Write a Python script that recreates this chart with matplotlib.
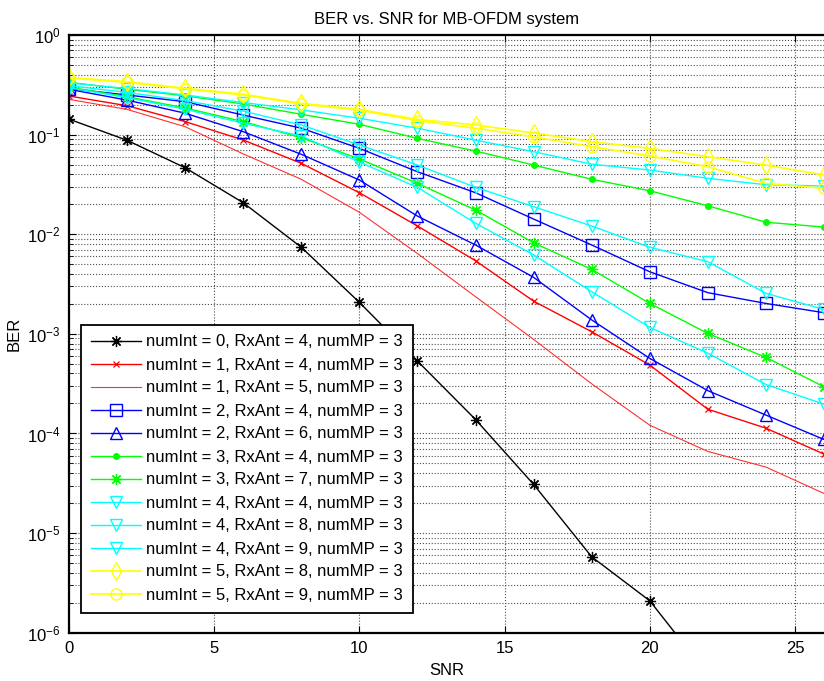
import numpy as np
from matplotlib import pyplot as plt

plt.rcParams['font.family'] = ['Liberation Sans', 'DejaVu Sans']

# SNR points (dB)
snr = [0, 2, 4, 6, 8, 10, 12, 14, 16, 18, 20, 22, 24, 26]
snr_0_4 = snr[:12]

# BER curves, one list per (numInt, RxAnt)
ber_0_4 = [0.143, 0.0877, 0.0465, 0.0207, 0.0074, 0.00207, 5.33e-4, 1.38e-4, 3.08e-5, 5.78e-6, 2.09e-6, 3.8e-7]
ber_1_4 = [0.244, 0.195, 0.135, 0.0883, 0.0515, 0.0261, 0.0121, 0.00542, 0.00213, 0.00105, 4.86e-4, 1.75e-4, 1.13e-4, 6.2e-5]
ber_1_5 = [0.226, 0.179, 0.12, 0.064, 0.0356, 0.0166, 0.0064, 0.00236, 8.8e-4, 3.15e-4, 1.21e-4, 6.6e-5, 4.6e-5, 2.5e-5]
ber_2_4 = [0.29, 0.25, 0.214, 0.157, 0.116, 0.0728, 0.0424, 0.0261, 0.0142, 0.0078, 0.0042, 0.00259, 0.00202, 0.00163]
ber_2_6 = [0.285, 0.222, 0.164, 0.107, 0.0634, 0.035, 0.0152, 0.0078, 0.00369, 0.00138, 5.67e-4, 2.69e-4, 1.53e-4, 8.7e-5]
ber_3_4 = [0.335, 0.285, 0.245, 0.203, 0.16, 0.127, 0.0917, 0.0684, 0.0495, 0.0356, 0.0273, 0.0193, 0.0132, 0.0118]
ber_3_7 = [0.30, 0.24, 0.185, 0.135, 0.093, 0.057, 0.0324, 0.0175, 0.0082, 0.00444, 0.00202, 0.00101, 5.8e-4, 2.94e-4]
ber_4_4 = [0.33, 0.29, 0.25, 0.21, 0.177, 0.146, 0.116, 0.088, 0.0674, 0.0505, 0.0441, 0.0364, 0.0314, 0.0305]
ber_4_8 = [0.31, 0.265, 0.22, 0.172, 0.125, 0.0787, 0.0495, 0.0296, 0.0189, 0.0121, 0.0074, 0.0053, 0.00255, 0.00176]
ber_4_9 = [0.295, 0.235, 0.18, 0.13, 0.097, 0.053, 0.0295, 0.0129, 0.0062, 0.00265, 0.00116, 6.4e-4, 3.1e-4, 1.97e-4]
ber_5_8 = [0.375, 0.34, 0.292, 0.254, 0.206, 0.179, 0.142, 0.125, 0.104, 0.085, 0.0728, 0.060, 0.0495, 0.0393]
ber_5_9 = [0.37, 0.335, 0.288, 0.25, 0.203, 0.176, 0.138, 0.116, 0.095, 0.0757, 0.061, 0.0476, 0.0324, 0.0289]

labels = ['numInt = 0, RxAnt = 4, numMP = 3',
          'numInt = 1, RxAnt = 4, numMP = 3',
          'numInt = 1, RxAnt = 5, numMP = 3',
          'numInt = 2, RxAnt = 4, numMP = 3',
          'numInt = 2, RxAnt = 6, numMP = 3',
          'numInt = 3, RxAnt = 4, numMP = 3',
          'numInt = 3, RxAnt = 7, numMP = 3',
          'numInt = 4, RxAnt = 4, numMP = 3',
          'numInt = 4, RxAnt = 8, numMP = 3',
          'numInt = 4, RxAnt = 9, numMP = 3',
          'numInt = 5, RxAnt = 8, numMP = 3',
          'numInt = 5, RxAnt = 9, numMP = 3']

fig = plt.figure(figsize=(8.24, 6.81), dpi=100)
ax = fig.add_axes([69/824, 48.3/681, 755/824, 597.7/681])

star = (8, 2, 0)  # matlab-ish asterisk

# matlab style colours / markers
ax.semilogy(snr_0_4, ber_0_4, color='k', marker=star, ms=8, mew=0.9, lw=1.0, label=labels[0])
ax.semilogy(snr, ber_1_4, color='r', marker='x', ms=5, mew=0.9, lw=1.0, label=labels[1])
ax.semilogy(snr, ber_1_5, color='#ff3030', lw=0.8, label=labels[2])
ax.semilogy(snr, ber_2_4, color='b', marker='s', ms=8, mfc='none', mew=1.0, lw=1.0, label=labels[3])
ax.semilogy(snr, ber_2_6, color='b', marker='^', ms=9, mfc='none', mew=1.0, lw=1.0, label=labels[4])
ax.semilogy(snr, ber_3_4, color='#00ff00', marker='.', ms=8, lw=1.0, label=labels[5])
ax.semilogy(snr, ber_3_7, color='#00ff00', marker=star, ms=8, mew=0.9, lw=1.0, label=labels[6])
ax.semilogy(snr, ber_4_4, color='#00ffff', marker='v', ms=9, mfc='none', mew=1.0, lw=1.0, label=labels[7])
ax.semilogy(snr, ber_4_8, color='#00ffff', marker='v', ms=9, mfc='none', mew=1.0, lw=1.0, label=labels[8])
ax.semilogy(snr, ber_4_9, color='#00ffff', marker='v', ms=9, mfc='none', mew=1.0, lw=1.0, label=labels[9])
ax.semilogy(snr, ber_5_8, color='#ffff00', marker='d', ms=9, mfc='none', mew=1.0, lw=1.2, label=labels[10])
ax.semilogy(snr, ber_5_9, color='#ffff00', marker='o', ms=8, mfc='none', mew=1.0, lw=1.2, label=labels[11])

ax.set_xlim(0, 26)
ax.set_ylim(1e-6, 1e0)
ax.set_xticks([0, 5, 10, 15, 20, 25])
ax.grid(True, which='major', color='0.3', linestyle=':', linewidth=0.8)
ax.grid(True, which='minor', axis='y', color='0.3', linestyle=':', linewidth=0.8)
ax.tick_params(which='both', direction='in', top=True, right=False, labelsize=12)
ax.tick_params(which='major', length=5, pad=6)
ax.tick_params(which='minor', length=3)
ax.spines['right'].set_visible(False)
for s in ['left', 'bottom', 'top']:
    ax.spines[s].set_linewidth(1.6)

ax.set_title('BER vs. SNR for MB-OFDM system', fontsize=12, pad=8)
ax.set_xlabel('SNR', fontsize=12, labelpad=5)
ax.set_ylabel('BER', fontsize=12, labelpad=4)

leg = ax.legend(loc='upper left', bbox_to_anchor=(80.5/824, 1 - 324.5/681),
                bbox_transform=fig.transFigure, borderaxespad=0, fontsize=12,
                fancybox=False, framealpha=1, edgecolor='k', handlelength=3.0,
                labelspacing=0.48, borderpad=0.6, handletextpad=0.35)
leg.get_frame().set_linewidth(1.3)

plt.savefig('out.png', dpi=100)
